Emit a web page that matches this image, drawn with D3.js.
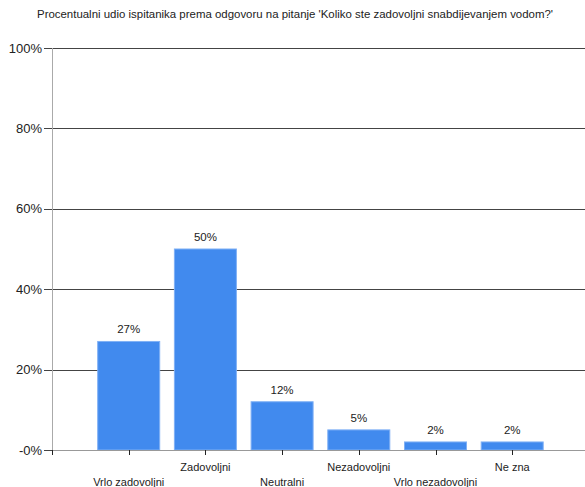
<!DOCTYPE html>
<html><head><meta charset="utf-8">
<script src="https://cdn.jsdelivr.net/npm/d3@7"></script>
<style>body{margin:0;background:#fff}svg{display:block}text{font-family:"Liberation Sans",Arial,sans-serif;fill:#222}</style>
</head><body><svg id="c" width="585" height="487"></svg>
<script>
const title = "Procentualni udio ispitanika prema odgovoru na pitanje 'Koliko ste zadovoljni snabdijevanjem vodom?'";
const categories = ["Vrlo zadovoljni","Zadovoljni","Neutralni","Nezadovoljni","Vrlo nezadovoljni","Ne zna"];
const values = [27,50,12,5,2,2];
const valueLabels = ["27%","50%","12%","5%","2%","2%"];
const yTicks = [0,20,40,60,80,100];
const yTickLabels = ["-0%","20%","40%","60%","80%","100%"];

const svg = d3.select("#c");
const x0 = 52, x1 = 585, yTop = 48, yBot = 450;
const step = 76.7;
const x = d3.scaleLinear().domain([0,1]).range([x0, x0+step]);
const y = d3.scaleLinear().domain([0,100]).range([yBot, yTop]);
const barW = 62;

svg.append("text").attr("x",295).attr("y",18).attr("text-anchor","middle")
  .attr("font-size",11.5).attr("textLength",516).attr("lengthAdjust","spacingAndGlyphs").text(title);

// gridlines
svg.selectAll("line.grid").data(yTicks.filter(d=>d>0)).enter().append("line")
  .attr("x1",x0).attr("x2",x1).attr("y1",d=>Math.round(y(d))+0.5).attr("y2",d=>Math.round(y(d))+0.5)
  .attr("stroke","#444").attr("stroke-width",1);
// y ticks
svg.selectAll("line.yt").data(yTicks).enter().append("line")
  .attr("x1",x0-8).attr("x2",x0).attr("y1",d=>Math.round(y(d))+0.5).attr("y2",d=>Math.round(y(d))+0.5)
  .attr("stroke","#444");
svg.selectAll("text.yl").data(yTicks).enter().append("text")
  .attr("x",x0-10).attr("y",d=>y(d)+4.5).attr("text-anchor","end").attr("font-size",13)
  .text((d,i)=>yTickLabels[i]);

// bars
svg.selectAll("rect.bar").data(values).enter().append("rect")
  .attr("x",(d,i)=>x(i+1)-barW/2).attr("width",barW)
  .attr("y",d=>y(d)).attr("height",d=>yBot-y(d))
  .attr("fill","#418aee").attr("stroke","#7fb0f5").attr("stroke-width",1);
svg.selectAll("text.vl").data(values).enter().append("text")
  .attr("x",(d,i)=>x(i+1)).attr("y",d=>y(d)-8).attr("text-anchor","middle").attr("font-size",11.5)
  .text((d,i)=>valueLabels[i]);

// axes lines
svg.append("line").attr("x1",x0+0.5).attr("x2",x0+0.5).attr("y1",yTop).attr("y2",yBot+5).attr("stroke","#aaa");
svg.append("line").attr("x1",x0).attr("x2",x1).attr("y1",yBot+0.5).attr("y2",yBot+0.5).attr("stroke","#999");
svg.selectAll("line.xt").data([0,1,2,3,4,5,6]).enter().append("line")
  .attr("x1",d=>Math.round(x(d))+0.5).attr("x2",d=>Math.round(x(d))+0.5).attr("y1",yBot).attr("y2",yBot+5)
  .attr("stroke","#222");
svg.selectAll("text.xl").data(categories).enter().append("text")
  .attr("x",(d,i)=>x(i+1)).attr("y",(d,i)=>i%2===1?471:486).attr("text-anchor","middle").attr("font-size",11)
  .text(d=>d);
</script></body></html>
